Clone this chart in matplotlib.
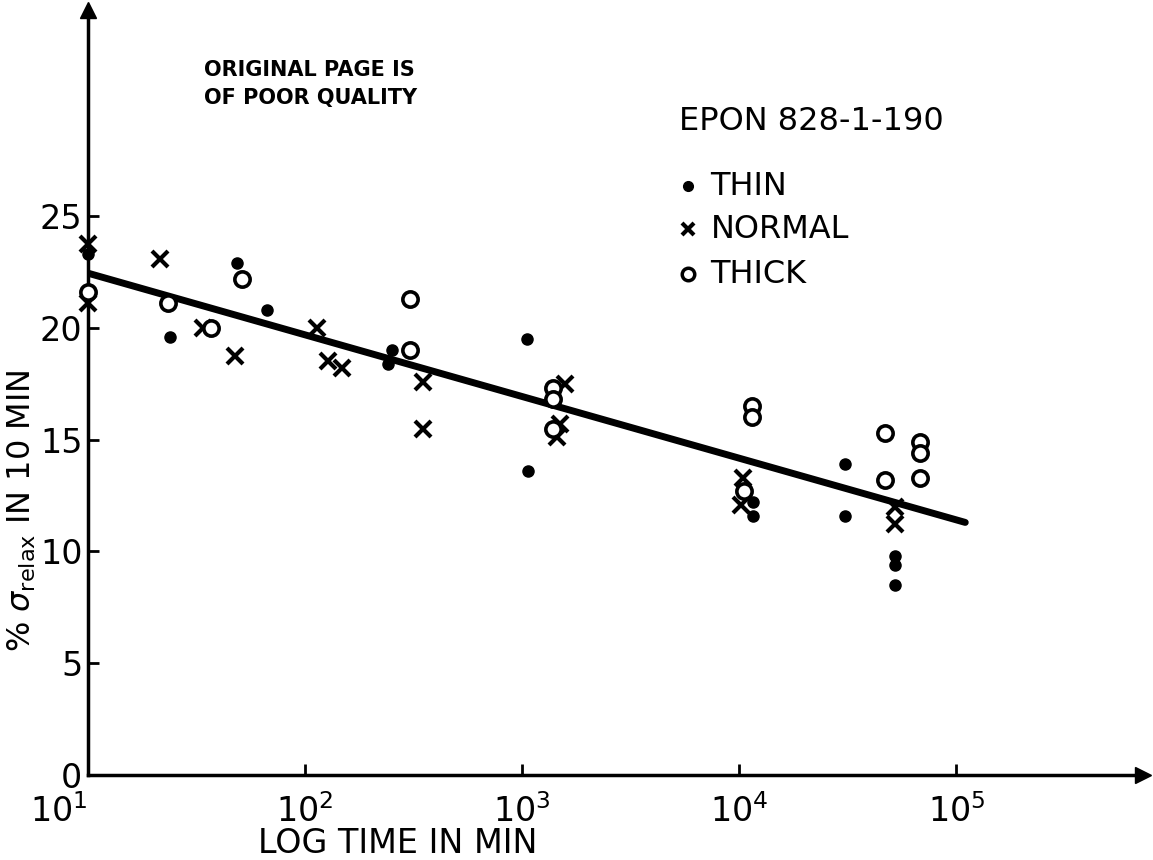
import matplotlib
matplotlib.use("Agg")
import matplotlib.pyplot as plt
import numpy as np

# data (time in min, % stress relaxed in 10 min)
thin_t = [10, 10, 48.6, 66.8, 23.9, 251, 242, 1055, 1060, 11600, 11600,
          30800, 30800, 52000, 52000, 52000]
thin_s = [23.3, 21.6, 22.9, 20.8, 19.6, 19.0, 18.4, 19.5, 13.6, 12.2, 11.6,
          13.9, 11.6, 9.8, 9.4, 8.5]

normal_t = [10, 10, 21.5, 34, 47.5, 113, 127, 148, 350, 350, 1580, 1500,
            1450, 10400, 10200, 52000, 52000]
normal_s = [23.75, 21.1, 23.1, 20.0, 18.75, 20.0, 18.5, 18.2, 17.6, 15.5,
            17.5, 15.7, 15.1, 13.3, 12.1, 12.0, 11.25]

thick_t = [10, 23.4, 37, 51, 305, 305, 1390, 1390, 1390, 11500, 11500,
           10500, 47100, 47100, 68200, 68200, 68200]
thick_s = [21.6, 21.1, 20.0, 22.2, 21.3, 19.0, 17.3, 16.8, 15.5, 16.5, 16.0,
           12.7, 15.3, 13.2, 14.9, 14.4, 13.3]

fit_t = [10, 1.1e5]
fit_s = [22.45, 11.3]

y_ticks = [0, 5, 10, 15, 20, 25]
x_ticks = [10, 1e2, 1e3, 1e4, 1e5]

fig = plt.figure(figsize=(11.53, 8.6), dpi=100)
ax = fig.add_axes([0.0763, 0.0988, 0.915, 0.889])

ax.set_xscale("log")
ax.set_xlim(10, 10 ** 5.86)
ax.set_ylim(0, 34.2)

ax.plot(fit_t, fit_s, color="black", lw=5, solid_capstyle="round", zorder=2)
ax.plot(thin_t, thin_s, "o", color="black", ms=8, ls="none", clip_on=False, zorder=3)
ax.plot(normal_t, normal_s, "x", color="black", ms=11, mew=3, ls="none", clip_on=False, zorder=3)
ax.plot(thick_t, thick_s, "o", mfc="white", mec="black", ms=11, mew=2.6, ls="none",
        clip_on=False, zorder=3)

# axes: only left/bottom with arrow heads
for s in ["top", "right"]:
    ax.spines[s].set_visible(False)
for s in ["left", "bottom"]:
    ax.spines[s].set_linewidth(2.5)
ax.plot(1, 0, ">", color="black", ms=12, transform=ax.transAxes, clip_on=False)
ax.plot(0, 1, "^", color="black", ms=12, transform=ax.transAxes, clip_on=False)

ax.set_xticks(x_ticks)
ax.minorticks_off()
ax.set_yticks(y_ticks)
ax.tick_params(direction="in", length=8, width=2, labelsize=24)
ax.tick_params(axis="y", pad=4)
ax.tick_params(axis="x", pad=14)
ax.get_xticklabels()[0].set_ha("right")

ax.set_xlabel("LOG TIME IN MIN", fontsize=24)
ax.xaxis.set_label_coords(0.294, -0.068)
ax.set_ylabel(r"% $\sigma_{\mathrm{relax}}$ IN 10 MIN", fontsize=23)
ax.yaxis.set_label_coords(-0.047, 0.346)

ax.text(0.11, 0.935, "ORIGINAL PAGE IS\nOF POOR QUALITY", transform=ax.transAxes,
        fontsize=15, fontweight="heavy", va="top", ha="left", linespacing=1.5)

ax.text(0.56, 0.855, "EPON 828-1-190", transform=ax.transAxes, fontsize=23, va="center")
leg_y = [0.77, 0.714, 0.655]
leg_txt = ["THIN", "NORMAL", "THICK"]
ax.plot(0.569, leg_y[0], "o", color="black", ms=7, transform=ax.transAxes)
ax.plot(0.569, leg_y[1], "x", color="black", ms=9, mew=3, transform=ax.transAxes)
ax.plot(0.569, leg_y[2], "o", mfc="white", mec="black", ms=9, mew=2.5, transform=ax.transAxes)
for yy, t in zip(leg_y, leg_txt):
    ax.text(0.59, yy, t, transform=ax.transAxes, fontsize=23, va="center")

fig.savefig("out.png", dpi=100, facecolor="white")
